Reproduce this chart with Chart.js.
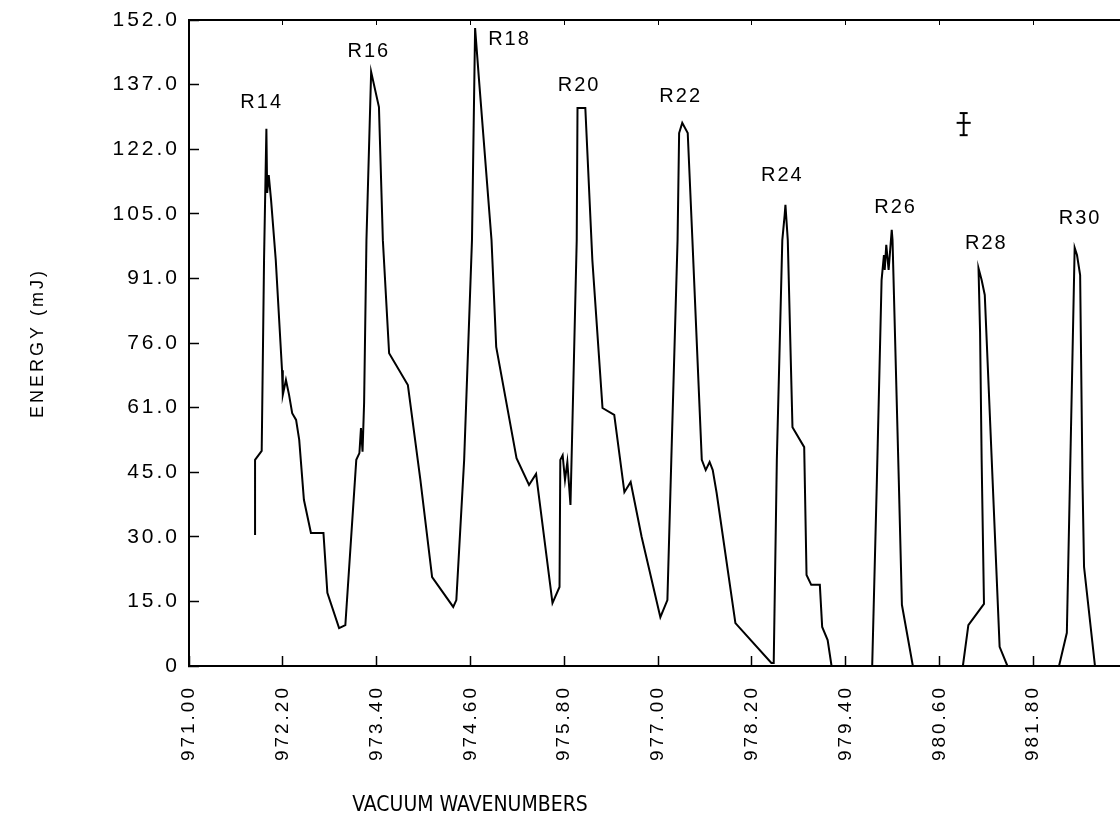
<!DOCTYPE html>
<html>
<head>
<meta charset="utf-8">
<script src="https://cdn.jsdelivr.net/npm/chart.js@4/dist/chart.umd.min.js"></script>
<style>
  html, body { margin: 0; padding: 0; background: #fff; }
  #wrap { width: 1120px; height: 837px; }
</style>
</head>
<body>
<div id="wrap"><canvas id="chart"></canvas></div>
<script>
// scanned spectrum
const wavenumbers = [
  971.845, 971.845, 971.93, 971.96, 971.99, 972.00, 972.02, 972.05, 972.11, 972.19,
  972.20, 972.24, 972.28, 972.32, 972.37, 972.41, 972.47, 972.56, 972.72, 972.77,
  972.92, 973.00, 973.14, 973.18, 973.20, 973.22, 973.24, 973.27, 973.33, 973.43,
  973.48, 973.56, 973.80, 973.96, 974.11, 974.38, 974.42, 974.52, 974.62, 974.66,
  974.71, 974.87, 974.93, 975.19, 975.35, 975.44, 975.65, 975.74, 975.75, 975.78,
  975.81, 975.84, 975.88, 975.90, 975.96, 975.97, 976.07, 976.16, 976.29, 976.44,
  976.57, 976.65, 976.79, 977.03, 977.12, 977.17, 977.25, 977.27, 977.31, 977.38,
  977.44, 977.56, 977.61, 977.66, 977.70, 977.75, 977.99, 978.45, 978.48, 978.52,
  978.59, 978.62, 978.63, 978.66, 978.72, 978.87, 978.90, 978.96, 979.07, 979.10,
  979.17, 979.22, 979.74, 979.80, 979.86, 979.89, 979.90, 979.92, 979.95, 979.99,
  980.00, 980.08, 980.12, 980.26, 980.90, 980.97, 981.17, 981.14, 981.12, 981.10,
  981.14, 981.18, 981.28, 981.37, 981.47, 982.13, 982.23, 982.27, 982.33, 982.36,
  982.40, 982.43, 982.45, 982.59, 982.91
];
const energy = [
  30.8, 48.5, 50.6, 95.5, 126.4, 111.3, 115.5, 109.6, 95.5, 69.6,
  63.8, 67.3, 63.8, 59.5, 57.9, 53.2, 39.1, 31.3, 31.3, 17.2,
  8.9, 9.6, 48.5, 50.1, 56.0, 50.4, 61.9, 100.2, 139.8, 131.5,
  100.2, 73.6, 66.1, 43.8, 20.9, 13.9, 15.5, 48.5, 100.2, 150.1,
  137.9, 100.2, 75.1, 48.9, 42.6, 45.2, 14.8, 18.6, 48.5, 49.6,
  43.8, 48.0, 37.9, 53.2, 100.2, 131.3, 131.3, 95.5, 60.7, 59.1,
  40.9, 43.3, 30.4, 11.5, 15.5, 48.5, 100.2, 125.4, 127.8, 125.4,
  100.2, 48.5, 46.1, 48.0, 46.1, 40.7, 10.1, 0.7, 0.7, 48.5,
  100.2, 106.1, 108.5, 100.2, 56.2, 51.5, 21.4, 19.1, 19.1, 9.2,
  6.1, 0, 0, 43.8, 90.8, 96.7, 93.2, 99.1, 93.2, 102.6,
  100.2, 43.8, 14.4, 0, 0, 9.6, 14.6, 48.5, 78.4, 93.6,
  90.8, 87.3, 43.8, 4.5, 0, 0, 7.8, 43.8, 98.4, 96.7,
  92.0, 43.8, 23.3, 0, 0
];

const xTicks = [971.0, 972.2, 973.4, 974.6, 975.8, 977.0, 978.2, 979.4, 980.6, 981.8];
const yTicks = [0, 15.2, 30.4, 45.6, 60.8, 76.0, 91.2, 106.4, 121.6, 136.8, 152.0];
const yTickLabels = ['0', '15.0', '30.0', '45.0', '61.0', '76.0', '91.0', '105.0', '122.0', '137.0', '152.0'];

const peakNames = ['R14', 'R16', 'R18', 'R20', 'R22', 'R24', 'R26', 'R28', 'R30'];
const peakX = [971.93, 973.30, 975.10, 975.99, 977.29, 978.59, 980.04, 981.20, 982.40];
const peakY = [132.5, 144.5, 147.3, 136.7, 134.1, 115.3, 107.8, 99.5, 105.2];

// error bar marker
const errX = 980.91, errY = 127.8;
const errLow = 124.9, errHigh = 130.1;
const errLeft = 980.82, errRight = 981.0;

const FONT = '"Liberation Sans", Arial, sans-serif';
Chart.defaults.font.family = FONT;
Chart.defaults.color = '#000';

const inkPlugin = {
  id: 'ink',
  beforeDraw(chart) {
    chart.ctx.letterSpacing = '3px';
  },
  afterDraw(chart) {
    const { ctx, chartArea, scales } = chart;
    ctx.save();
    ctx.fillStyle = '#000';
    ctx.textAlign = 'center';
    ctx.textBaseline = 'middle';
    ctx.letterSpacing = '2px';
    ctx.font = '20px ' + FONT;
    peakNames.forEach((name, i) => {
      ctx.fillText(name, scales.x.getPixelForValue(peakX[i]), scales.y.getPixelForValue(peakY[i]));
    });
    ctx.letterSpacing = '0px';
    ctx.font = '500 21px "Liberation Sans Narrow", "DejaVu Sans Condensed", sans-serif';
    ctx.fillText('VACUUM WAVENUMBERS', chartArea.left + 281, 806);
    ctx.restore();
  }
};

new Chart(document.getElementById('chart'), {
  type: 'line',
  data: {
    datasets: [
      {
        data: wavenumbers.map((x, i) => ({ x: x, y: energy[i] })),
        xAxisID: 'x', yAxisID: 'y',
        borderColor: '#000', borderWidth: 2, pointRadius: 0, tension: 0
      },
      {
        data: [{ x: errX, y: errLow }, { x: errX, y: errHigh }],
        xAxisID: 'x', yAxisID: 'y',
        borderColor: '#000', borderWidth: 2,
        pointStyle: 'line', pointRadius: 4, pointBorderWidth: 2, pointBorderColor: '#000'
      },
      {
        data: [{ x: errLeft, y: errY }, { x: errRight, y: errY }],
        xAxisID: 'x', yAxisID: 'y',
        borderColor: '#000', borderWidth: 2, pointRadius: 0
      }
    ]
  },
  options: {
    responsive: true,
    maintainAspectRatio: false,
    animation: false,
    layout: { padding: 0, autoPadding: false },
    plugins: { legend: { display: false }, tooltip: { enabled: false } },
    scales: {
      x: {
        type: 'linear', position: 'bottom', min: 971, max: 982.91,
        afterBuildTicks: s => { s.ticks = xTicks.map(v => ({ value: v })); },
        afterFit: s => { s.height = 171; s.paddingLeft = 0; s.paddingRight = 0; },
        grid: { drawOnChartArea: false, tickLength: -10, tickColor: '#000', tickWidth: 1.5 },
        border: { color: '#000', width: 2 },
        ticks: {
          autoSkip: false, maxRotation: 90, minRotation: 90, padding: 29,
          font: { size: 19 }, callback: v => v.toFixed(2)
        }
      },
      xTop: {
        type: 'linear', position: 'top', min: 971, max: 982.91,
        afterBuildTicks: s => { s.ticks = xTicks.map(v => ({ value: v })); },
        afterFit: s => { s.height = 20; s.paddingLeft = 0; s.paddingRight = 0; },
        grid: { drawOnChartArea: false, tickLength: -5, tickColor: '#000', tickWidth: 1 },
        border: { color: '#000', width: 2 },
        ticks: { display: false }
      },
      y: {
        type: 'linear', position: 'left', min: 0, max: 152,
        afterBuildTicks: s => { s.ticks = yTicks.map(v => ({ value: v })); },
        afterFit: s => { s.width = 189; s.paddingTop = 0; s.paddingBottom = 0; },
        grid: { drawOnChartArea: false, tickLength: -10, tickColor: '#000', tickWidth: 1.5 },
        border: { color: '#000', width: 2 },
        ticks: { padding: 19, font: { size: 21 }, callback: (v, i) => yTickLabels[i] },
        title: { display: true, text: 'ENERGY (mJ)', font: { size: 18 }, padding: { top: 27, bottom: 0 } }
      }
    }
  },
  plugins: [inkPlugin]
});
</script>
</body>
</html>
